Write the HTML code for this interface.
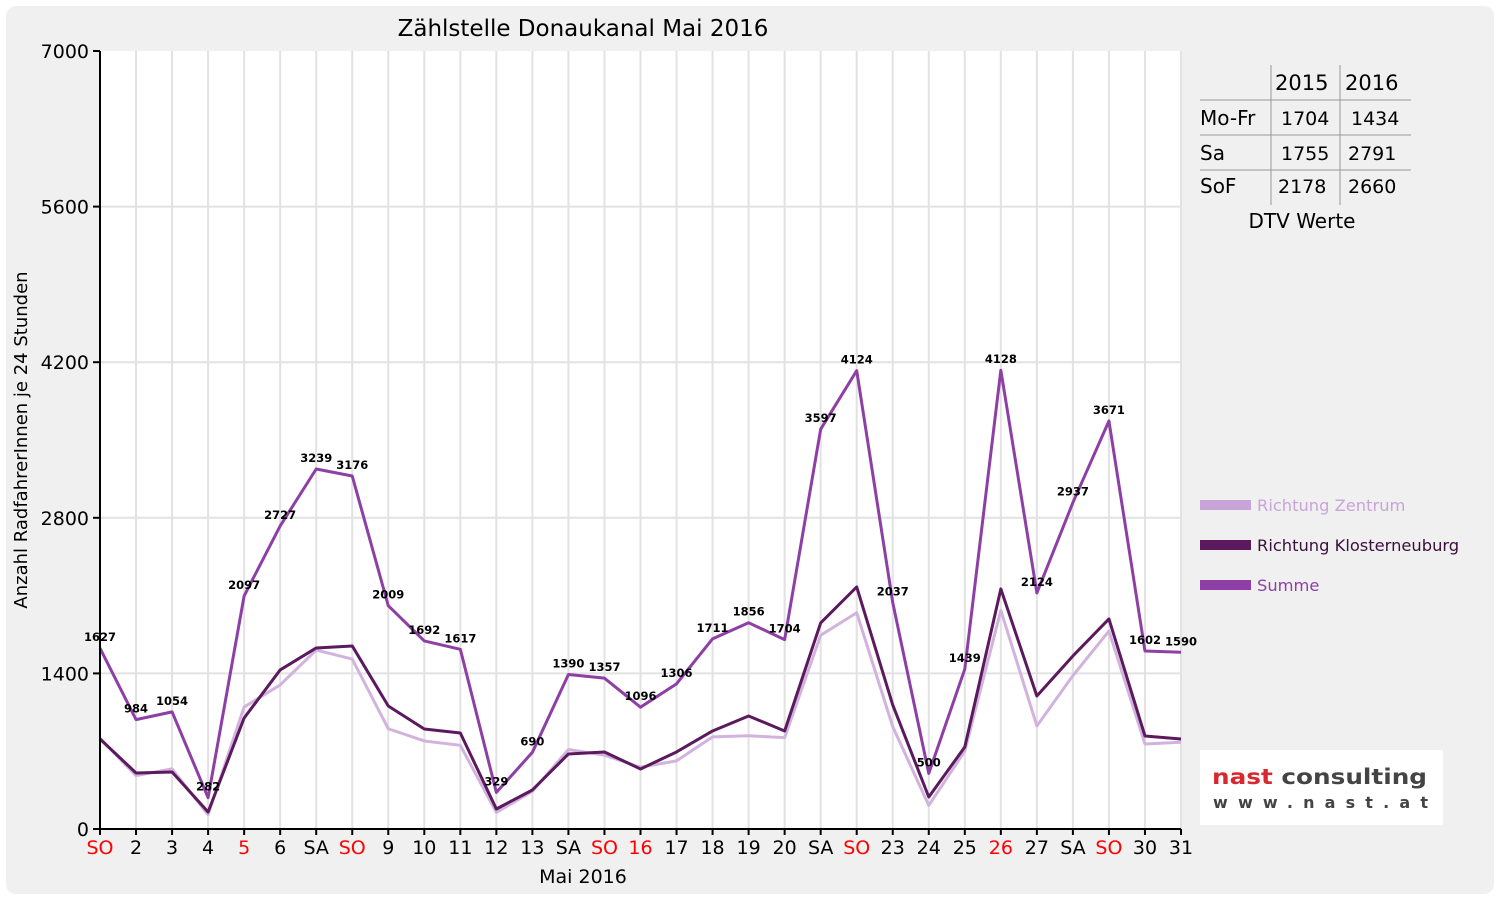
<!DOCTYPE html>
<html><head><meta charset="utf-8"><style>
body{margin:0;background:#fff;}
svg{display:block;font-family:"DejaVu Sans","Liberation Sans",sans-serif;}
</style></head><body>
<svg id="chart" width="1500" height="900">
<rect x="6" y="6" width="1488" height="888" rx="10" fill="#f0f0f0"/>
<rect x="100" y="51" width="1081" height="778" fill="#fff"/>
<g id="grid"></g>
<g id="series"></g>
<g id="axes"></g>
<text x="583" y="36" font-size="23" text-anchor="middle" fill="#000">Zählstelle Donaukanal Mai 2016</text>
<text x="583" y="883" font-size="19" text-anchor="middle">Mai 2016</text>
<text transform="translate(27,440) rotate(-90)" font-size="18" text-anchor="middle">Anzahl RadfahrerInnen je 24 Stunden</text>
<g font-size="19">
<line x1="1271" y1="65" x2="1271" y2="205" stroke="#999"/>
<line x1="1340" y1="65" x2="1340" y2="205" stroke="#999"/>
<line x1="1200" y1="100" x2="1411" y2="100" stroke="#999"/>
<line x1="1200" y1="135" x2="1411" y2="135" stroke="#999"/>
<line x1="1200" y1="170" x2="1411" y2="170" stroke="#999"/>
<text x="1275" y="90" font-size="21">2015</text><text x="1345" y="90" font-size="21">2016</text>
<text x="1200" y="125" font-size="20">Mo-Fr</text><text x="1281" y="125">1704</text><text x="1351" y="125">1434</text>
<text x="1200" y="160" font-size="20">Sa</text><text x="1281" y="160">1755</text><text x="1348" y="160">2791</text>
<text x="1200" y="193" font-size="20">SoF</text><text x="1278" y="193">2178</text><text x="1348" y="193">2660</text>
<text x="1302" y="228" font-size="20" text-anchor="middle">DTV Werte</text>
</g>
<g font-size="16.3">
<g><rect x="1200" y="500" width="51" height="10" fill="#c9a4d8"/><text x="1257" y="511" fill="#c9a4d8">Richtung Zentrum</text></g>
<g><rect x="1200" y="540" width="51" height="10" fill="#5c1a5e"/><text x="1257" y="551" fill="#3a0f3c">Richtung Klosterneuburg</text></g>
<g><rect x="1200" y="580" width="51" height="10" fill="#8e3fa6"/><text x="1257" y="591" fill="#8e3fa6">Summe</text></g>
</g>
<g>
<rect x="1200" y="750" width="243" height="75" fill="#fff"/>
<text x="1212" y="784" font-size="21" font-weight="bold" fill="#d7282f" textLength="215" lengthAdjust="spacingAndGlyphs">nast <tspan fill="#444">consulting</tspan></text>
<text x="1213" y="808" font-size="16" font-weight="bold" fill="#444" textLength="215" lengthAdjust="spacing">www.nast.at</text>
</g>
</svg>
<script>
const days=[1,2,3,4,5,6,7,8,9,10,11,12,13,14,15,16,17,18,19,20,21,22,23,24,25,26,27,28,29,30,31];
const dayLabels=["SO","2","3","4","5","6","SA","SO","9","10","11","12","13","SA","SO","16","17","18","19","20","SA","SO","23","24","25","26","27","SA","SO","30","31"];
const redDays=[1,5,8,15,16,22,26,29];
const summe=[1627,984,1054,282,2097,2727,3239,3176,2009,1692,1617,329,690,1390,1357,1096,1306,1711,1856,1704,3597,4124,2037,500,1439,4128,2124,2937,3671,1602,1590];
const kloster=[810,504,513,153,999,1431,1629,1647,1107,900,864,180,351,675,693,540,693,882,1017,882,1854,2178,1116,288,738,2160,1197,1557,1890,837,810];
const zentrum=[817,480,541,129,1098,1296,1610,1529,902,792,753,149,339,715,664,556,613,829,839,822,1743,1946,921,212,701,1968,927,1380,1781,765,780];
const yTicks=[0,1400,2800,4200,5600,7000];
const NS="http://www.w3.org/2000/svg";
const X=d=>100+(d-1)*(1081/30);
const Y=v=>829-v*(778/7000);
function mk(tag,attrs,parent){const e=document.createElementNS(NS,tag);for(const k in attrs)e.setAttribute(k,attrs[k]);parent.appendChild(e);return e;}
const grid=document.getElementById('grid'),axes=document.getElementById('axes'),series=document.getElementById('series');
days.forEach((d,i)=>{
 const l=mk('line',{x1:X(d),x2:X(d),y1:51,y2:829,stroke:'#e2e2e2','stroke-width':2},grid);
 
 
 const t=mk('line',{x1:X(d),x2:X(d),y1:829,y2:835,stroke:'#000','stroke-width':2},axes);
 
 
 const tx=mk('text',{x:X(d),y:854,'font-size':19,'text-anchor':'middle',fill:redDays.includes(d)?'#f00':'#000'},axes);
 tx.textContent=dayLabels[i];
 
 
});
yTicks.forEach(v=>{
 if(v>0&&v<7000){const g=mk('line',{x1:100,x2:1181,y1:Y(v),y2:Y(v),stroke:'#e2e2e2','stroke-width':2},grid);
 
 }
 const t=mk('line',{x1:93,x2:100,y1:Y(v),y2:Y(v),stroke:'#000','stroke-width':2},axes);
 
 
 const tx=mk('text',{x:89,y:Y(v)+7,'font-size':19,'text-anchor':'end'},axes);
 tx.textContent=v;
 
 
});
const ax=mk('path',{d:'M100 51 V829 H1181',fill:'none',stroke:'#000','stroke-width':2},axes);


function line(vals,color,name){
 const p=mk('polyline',{points:vals.map((v,i)=>X(days[i])+','+Y(v)).join(' '),fill:'none',stroke:color,'stroke-width':3,'stroke-linejoin':'round'},series);
 
 
}
line(zentrum,'#d2b3de','line-richtung-zentrum');
line(kloster,'#5c1a5e','line-richtung-klosterneuburg');
line(summe,'#8e3fa6','line-summe');
summe.forEach((v,i)=>{
 const t=mk('text',{x:X(days[i]),y:Y(v)-7,'font-size':11.5,'font-weight':'bold','text-anchor':'middle'},series);
 t.textContent=v;
 
 
});
</script>
</body></html>
